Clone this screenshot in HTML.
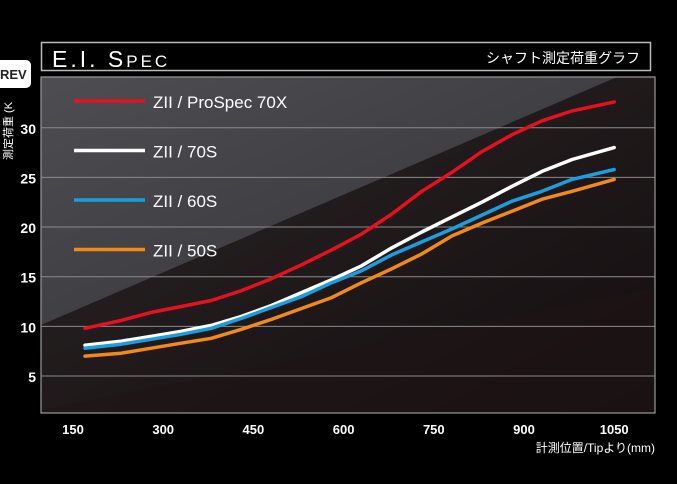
<!DOCTYPE html>
<html><head><meta charset="utf-8"><style>
body{margin:0;background:#000;width:677px;height:484px;overflow:hidden}
svg{display:block}
text{font-family:"Liberation Sans","Noto Sans CJK JP",sans-serif}
</style></head><body>
<svg id="chart" width="677" height="484">
<defs>
<linearGradient id="bg" x1="0" y1="0" x2="1" y2="1">
<stop offset="0" stop-color="#2a2627"/><stop offset="1" stop-color="#150d0f"/>
</linearGradient>
<linearGradient id="hl" x1="0" y1="0" x2="1" y2="1">
<stop offset="0" stop-color="#4e4d52"/><stop offset="1" stop-color="#333237"/>
</linearGradient>
</defs>
<rect x="0" y="0" width="677" height="484" fill="#000"/>
<rect x="41.5" y="42.5" width="609" height="28" fill="#000" stroke="#bbb" stroke-width="1.5"/>
<text x="52" y="67" fill="#fff" font-size="23" letter-spacing="3">E.I. S<tspan font-size="17">PEC</tspan></text>
<text x="640" y="63" fill="#fff" font-size="14" text-anchor="end">シャフト測定荷重グラフ</text>
<rect x="-6" y="60" width="37" height="28" rx="5" fill="#fff"/>
<text x="0" y="79" fill="#222" font-size="13" font-weight="bold">REV</text>
<text transform="translate(12,160) rotate(-90)" fill="#fff" font-size="11">測定荷重 (K</text>
<g id="panel">
<rect x="41" y="77" width="614" height="336" fill="url(#bg)"/>
<polygon points="41,77 617,77 41,325" fill="url(#hl)"/>
<polygon points="41,410 655,288 655,413 41,413" fill="#1e1416" opacity="0.6"/>
</g>
<g id="grid"></g>
<rect x="41" y="77" width="614" height="336" fill="none" stroke="#9a9a9a" stroke-width="1.2"/>
<g id="series"></g>
<g id="legend"></g>
<g id="xt"></g>
<text x="655" y="452" fill="#fff" font-size="12" text-anchor="end">計測位置/Tipより(mm)</text>
</svg>
<script>
const positions=[170,230,280,330,380,430,480,530,580,630,680,730,780,830,880,930,980,1050];
const red=[9.8,10.6,11.4,12.0,12.6,13.6,14.8,16.2,17.7,19.3,21.3,23.6,25.5,27.6,29.3,30.7,31.7,32.6];
const white=[8.1,8.5,9.0,9.5,10.1,11.0,12.1,13.4,14.7,16.1,17.9,19.5,21.0,22.5,24.1,25.6,26.8,28.0];
const blue=[7.8,8.2,8.7,9.2,9.8,10.8,11.9,13.0,14.4,15.6,17.2,18.5,19.8,21.2,22.6,23.6,24.8,25.8];
const orange=[7.0,7.3,7.8,8.3,8.8,9.7,10.7,11.8,12.9,14.4,15.8,17.3,19.1,20.4,21.6,22.8,23.6,24.8];
const seriesNames=["ZII / ProSpec 70X","ZII / 70S","ZII / 60S","ZII / 50S"];
const yTicks=[5,10,15,20,25,30];
const xTicks=[150,300,450,600,750,900,1050];
const colors=["#e8101e","#ffffff","#1a9ee0","#f08a1c"];
const NS="http://www.w3.org/2000/svg";
function X(v){return 73+(v-150)*90.2/150;}
function Y(v){return 376-(v-5)*9.93;}
function mk(t,a,p){const e=document.createElementNS(NS,t);for(const k in a)e.setAttribute(k,a[k]);p.appendChild(e);return e;}
const grid=document.getElementById('grid');
yTicks.forEach(t=>{
  const l=mk('line',{x1:41,x2:655,y1:Y(t),y2:Y(t),stroke:'#8a8a8a','stroke-width':1},grid);
  
  
  const tx=mk('text',{x:36,y:Y(t)+6,fill:'#fff','font-size':14,'font-weight':'bold','text-anchor':'end'},grid);
  tx.textContent=t;
  
  
});
const xt=document.getElementById('xt');
xTicks.forEach(t=>{
  const tx=mk('text',{x:X(t),y:434,fill:'#fff','font-size':13,'font-weight':'bold','text-anchor':'middle'},xt);
  tx.textContent=t;
  
  
});
const sg=document.getElementById('series');
[red,white,blue,orange].forEach((d,i)=>{
  const pts=d.map((v,j)=>X(positions[j]).toFixed(1)+','+Y(v).toFixed(1)).join(' ');
  const p=mk('polyline',{points:pts,fill:'none',stroke:colors[i],'stroke-width':3.5,'stroke-linejoin':'round','stroke-linecap':'round'},sg);
  
  
});
const lg=document.getElementById('legend');
seriesNames.forEach((n,i)=>{
  const y=101+i*49.5;
  const l=mk('line',{x1:74,x2:145,y1:y,y2:y,stroke:colors[i],'stroke-width':3.5},lg);
  
  
  const t=mk('text',{x:153,y:y+7,fill:'#fff','font-size':17},lg);
  t.textContent=n;
  
  
});
</script>
</body></html>
